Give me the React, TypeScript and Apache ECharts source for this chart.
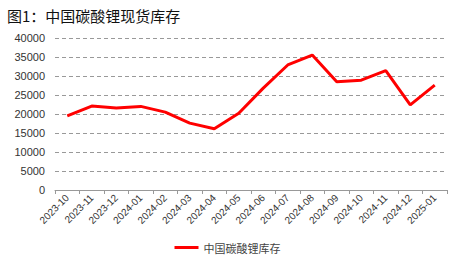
import React, { useEffect, useRef } from "react";
import * as echarts from "echarts";

const categories = ["2023-10","2023-11","2023-12","2024-01","2024-02","2024-03","2024-04","2024-05","2024-06","2024-07","2024-08","2024-09","2024-10","2024-11","2024-12","2025-01"];
const inventory = [19500, 22100, 21600, 22000, 20500, 17600, 16100, 20200, 26800, 32900, 35500, 28500, 28900, 31400, 22400, 27600];
const seriesName = "中国碳酸锂库存";
const titleText = "图1：中国碳酸锂现货库存";

export default function App() {
  const ref = useRef<HTMLDivElement>(null);
  useEffect(() => {
    const chart = echarts.init(ref.current!, null, { renderer: "svg" });
    chart.setOption({
      animation: false,
      title: {
        text: titleText,
        left: 2,
        top: 3,
        textStyle: { fontSize: 15, fontWeight: "normal", color: "#111", fontFamily: "Noto Sans CJK SC" },
      },
      grid: { left: 55, right: 8, top: 38, bottom: 72 },
      legend: {
        bottom: 4,
        left: "center",
        itemWidth: 24,
        itemHeight: 3,
        icon: "rect",
        textStyle: { fontSize: 11, color: "#444", fontFamily: "Noto Sans CJK SC" },
        data: [seriesName],
      },
      xAxis: {
        type: "category",
        data: categories,
        boundaryGap: true,
        axisLine: { lineStyle: { color: "#999" } },
        axisTick: { show: true, alignWithLabel: false, length: 4, lineStyle: { color: "#999" } },
        axisLabel: { rotate: 45, fontSize: 10, color: "#333", interval: 0, margin: 6, fontFamily: "Liberation Sans" },
      },
      yAxis: {
        type: "value",
        min: 0,
        max: 40000,
        interval: 5000,
        axisLine: { show: false },
        axisTick: { show: false },
        axisLabel: { fontSize: 11, color: "#333", margin: 10, fontFamily: "Liberation Sans", formatter: (v: number) => String(v) },
        splitLine: { lineStyle: { type: [4, 3], color: "#999", width: 1 } },
      },
      series: [
        {
          name: seriesName,
          type: "line",
          data: inventory,
          symbol: "none",
          lineStyle: { color: "#ff0000", width: 3 },
          itemStyle: { color: "#ff0000" },
        },
      ],
    });
    return () => chart.dispose();
  }, []);
  return <div ref={ref} style={{ width: 455, height: 262, position: "absolute", left: 0, top: 0 }} />;
}
